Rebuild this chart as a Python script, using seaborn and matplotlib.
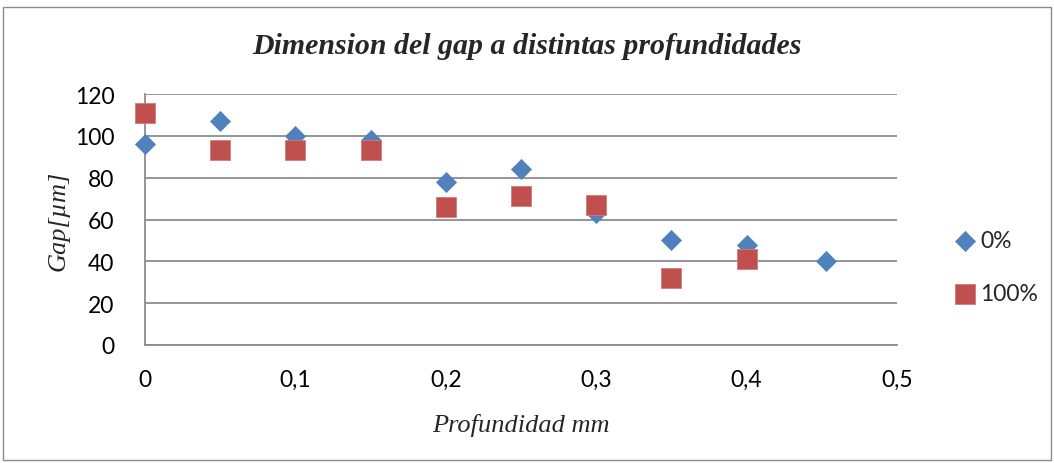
import matplotlib
matplotlib.use("Agg")
import matplotlib.pyplot as plt
import seaborn as sns
import pandas as pd
from matplotlib.patches import Rectangle
from matplotlib.ticker import FuncFormatter

# Gap dimension measured at each depth
depth_0 = [0, 0.05, 0.1, 0.15, 0.2, 0.25, 0.3, 0.35, 0.4, 0.453]
gap_0 = [96, 107, 100, 98, 78, 84, 63, 50, 48, 40]
depth_100 = [0, 0.05, 0.1, 0.15, 0.2, 0.25, 0.3, 0.35, 0.4]
gap_100 = [111, 93, 93, 93, 66, 71, 67, 32, 41]
series_names = ["0%", "100%"]
y_ticks = [0, 20, 40, 60, 80, 100, 120]
x_ticks = [0, 0.1, 0.2, 0.3, 0.4, 0.5]

df = pd.concat([
    pd.DataFrame({"depth": depth_0, "gap": gap_0, "serie": series_names[0]}),
    pd.DataFrame({"depth": depth_100, "gap": gap_100, "serie": series_names[1]}),
])

sns.set_theme(style="white")
plt.rcParams["font.family"] = ["Lato", "DejaVu Sans"]

fig = plt.figure(figsize=(10.54, 4.64), dpi=100)
fig.patch.set_facecolor("white")
# chart border
fig.add_artist(Rectangle((3 / 1054, 3 / 464), 1048 / 1054, 453 / 464,
                         transform=fig.transFigure, fill=False,
                         edgecolor="#8c8c8c", linewidth=1.0))

ax = fig.add_axes([145 / 1054, 1 - 346 / 464, 752 / 1054, 251 / 464])

sns.scatterplot(data=df[df.serie == "0%"], x="depth", y="gap", marker="D",
                color="#4F81BD", s=105, edgecolor="#4F81BD", linewidth=0.5,
                ax=ax, label="0%", zorder=3, clip_on=False)
sns.scatterplot(data=df[df.serie == "100%"], x="depth", y="gap", marker="s",
                color="#C0504D", s=200, edgecolor="#D07D7A", linewidth=0.6,
                ax=ax, label="100%", zorder=4, clip_on=False)

ax.set_xlim(0, 0.5)
ax.set_ylim(0, 120)
ax.set_xticks(x_ticks)
ax.set_yticks(y_ticks)
ax.xaxis.set_major_formatter(FuncFormatter(lambda v, p: f"{v:g}".replace(".", ",")))
ax.tick_params(axis="both", labelsize=16.5, length=0, colors="black")
ax.tick_params(axis="x", pad=17)
ax.tick_params(axis="y", pad=22)
ax.grid(axis="y", color="#8c8c8c", linewidth=1.3)
ax.set_axisbelow(True)
for side in ["top", "right"]:
    ax.spines[side].set_visible(False)
for side in ["left", "bottom"]:
    ax.spines[side].set_color("#8c8c8c")
    ax.spines[side].set_linewidth(1.3)

ax.set_xlabel("Profundidad mm", fontsize=19, fontstyle="italic",
              family="Liberation Serif", labelpad=17)
ax.set_ylabel("Gap[\u00b5m]", fontsize=19, fontstyle="italic",
              family="Liberation Serif", labelpad=4)
fig.text(0.5, 1 - 46 / 464, "Dimension del gap a distintas profundidades",
         ha="center", va="center", fontsize=21.5, fontweight="bold",
         fontstyle="italic", family="Liberation Serif")

ax.legend(loc="center left", bbox_to_anchor=(1.063, 0.31), frameon=False,
          fontsize=16.5, handletextpad=0.15, labelspacing=1.4,
          borderaxespad=0, handlelength=1.0)

fig.savefig("out.png", dpi=100)
